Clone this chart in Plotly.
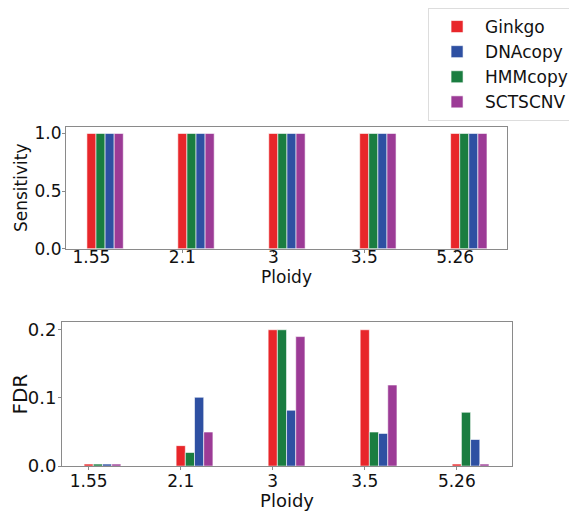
import plotly.graph_objects as go

ploidy = ["1.55", "2.1", "3", "3.5", "5.26"]
methods = ["Ginkgo", "HMMcopy", "DNAcopy", "SCTSCNV"]  # bar order within group
legend_rank = {"Ginkgo": 1, "DNAcopy": 2, "HMMcopy": 3, "SCTSCNV": 4}
colors = {"Ginkgo": "#e8262a", "HMMcopy": "#1a7d40", "DNAcopy": "#2e50a2", "SCTSCNV": "#9c3b96"}

sensitivity = {
    "Ginkgo": [1.0, 1.0, 1.0, 1.0, 1.0],
    "HMMcopy": [1.0, 1.0, 1.0, 1.0, 1.0],
    "DNAcopy": [1.0, 1.0, 1.0, 1.0, 1.0],
    "SCTSCNV": [1.0, 1.0, 1.0, 1.0, 1.0],
}
fdr = {
    "Ginkgo": [0.003, 0.03, 0.2, 0.2, 0.003],
    "HMMcopy": [0.003, 0.02, 0.2, 0.05, 0.079],
    "DNAcopy": [0.003, 0.101, 0.082, 0.048, 0.039],
    "SCTSCNV": [0.003, 0.05, 0.19, 0.119, 0.003],
}

W = 0.1
fig = go.Figure()
for k, m in enumerate(methods):
    off = -W / 2 + k * W
    fig.add_trace(go.Bar(
        x=ploidy, y=sensitivity[m], name=m, width=W, offset=off,
        marker=dict(color=colors[m], line=dict(color="white", width=0.6)),
        xaxis="x", yaxis="y", legendrank=legend_rank[m], showlegend=True))
    fig.add_trace(go.Bar(
        x=ploidy, y=fdr[m], name=m, width=W, offset=off,
        marker=dict(color=colors[m], line=dict(color="white", width=0.6)),
        xaxis="x2", yaxis="y2", showlegend=False))

axis_common = dict(showline=True, linecolor="#8a8a8a", linewidth=1, mirror=True,
                   showgrid=False, zeroline=False, ticks="outside", ticklen=3,
                   tickcolor="#8a8a8a", automargin=False,
                   tickfont=dict(size=17, color="#111"))

fig.update_layout(
    width=577, height=514,
    margin=dict(l=0, r=0, t=0, b=0),
    paper_bgcolor="white", plot_bgcolor="white",
    barmode="overlay",
    font=dict(family="DejaVu Sans", color="#111"),
    xaxis=dict(axis_common, domain=[0.1005, 0.8648], anchor="y", type="category",
               range=[-0.28, 4.57], ticklabelstandoff=-10,
               title=dict(text="Ploidy", font=dict(size=17), standoff=0)),
    yaxis=dict(axis_common, domain=[0.5422, 0.7840], anchor="x", range=[0, 1.057],
               tickvals=[0, 0.5, 1.0], ticktext=["0.0", "0.5", "1.0"],
               ticklabelstandoff=-3,
               title=dict(text="Sensitivity", font=dict(size=17), standoff=2)),
    xaxis2=dict(axis_common, domain=[0.0936, 0.8735], anchor="y2", type="category",
                range=[-0.29, 4.6], ticklabelstandoff=-4,
                title=dict(text="Ploidy", font=dict(size=18), standoff=0)),
    yaxis2=dict(axis_common, domain=[0.1109, 0.3963], anchor="x2", range=[0, 0.211],
                tickvals=[0, 0.1, 0.2], ticktext=["0.0", "0.1", "0.2"],
                tickfont=dict(size=18, color="#111"), ticklabelstandoff=-2,
                title=dict(text="FDR", font=dict(size=20), standoff=8)),
    legend=dict(x=0.728, y=1.02, xanchor="left", yanchor="top",
                bordercolor="#dddddd", borderwidth=1, bgcolor="white",
                font=dict(size=17), tracegroupgap=0, itemwidth=46),
)

fig.write_html("out.html")
